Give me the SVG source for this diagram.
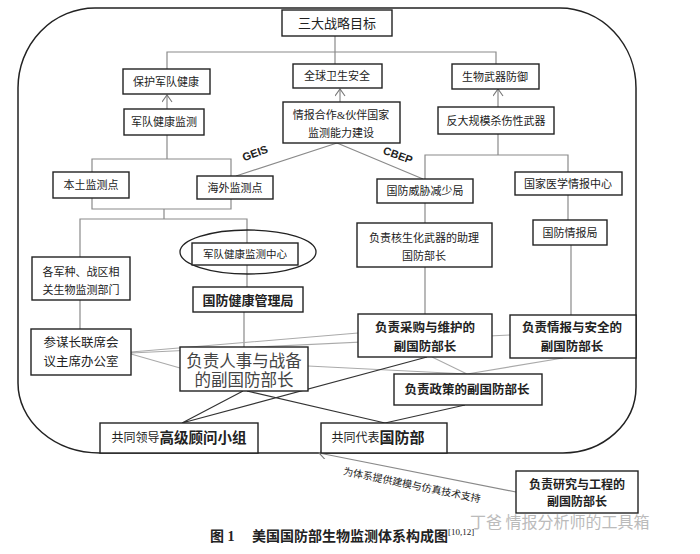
<svg xmlns="http://www.w3.org/2000/svg" width="700" height="554" viewBox="0 0 700 554">
<style>
.b{fill:#fff;stroke:#222;stroke-width:1.4}
.t{font-family:"Liberation Serif","Noto Sans CJK SC",serif;fill:#222;text-anchor:middle;dominant-baseline:central;font-size:11px}
.bd{font-weight:bold;font-size:12.5px}
.c{fill:none;stroke:#8a8a8a;stroke-width:1.2}
.d{fill:none;stroke:#333;stroke-width:1.2}
.l{fill:none;stroke:#aaa;stroke-width:1.1}
.lab{font-family:"Liberation Sans",Arial,sans-serif;font-weight:bold;font-size:11px;fill:#222;text-anchor:middle;dominant-baseline:central}
</style>
<defs>
<marker id="ah" markerUnits="userSpaceOnUse" markerWidth="12" markerHeight="12" refX="8" refY="5" orient="auto">
<path d="M1,0 L8,5 L1,10" fill="none" stroke="#777" stroke-width="1.1"/>
</marker>
</defs>
<rect width="700" height="554" fill="#fff"/>
<path d="M95,8 H560 A76 80 0 0 1 636,88 V387 A73 66 0 0 1 563,453 H100 A82 70 0 0 1 18,383 V88 A77 80 0 0 1 95,8 Z" fill="none" stroke="#222" stroke-width="1.5"/>
<g id="connectors">
<path class="c" d="M335,36 V64 M167,69 V52 H496 V64"/>
<path class="c" d="M167,109 V95" marker-end="url(#ah)"/>
<path class="c" d="M340,102 V89" marker-end="url(#ah)"/>
<path class="c" d="M498,107 V89" marker-end="url(#ah)"/>
<path class="c" d="M167,135 V159 M92,172 V159 H231 V176"/>
<path class="c" d="M337,143 L236,176 M337,143 L423,179"/>
<path class="c" d="M92,198 V209 H231 V199 M164,209 V219 M80,257 V219 H247 V243"/>
<path class="c" d="M247,265 V287 M80,300 V329 M244,312 V347"/>
<path class="c" d="M498,134 V155 M425,179 V155 H568 V172"/>
<path class="c" d="M425,203 V223 M568,195 V220 M425,267 V314 M571,245 V315"/>
<path class="l" d="M131,352 L358,333 M131,353 L510,335 M131,354 L180,368"/>
<path class="l" d="M308,366 L467,374 M432,357 L467,374 M563,358 L467,374"/>
<path class="d" d="M243,391 L182,423 M247,391 L385,423 M427,357 L182,423 M465,405 L385,423"/>
<path class="c" d="M516,492 L319,453" marker-end="url(#ah)"/>
</g>
<g id="n_goal"><rect class="b" x="282" y="10" width="110" height="26"/><text class="t" x="337" y="23" style="font-size:13px">三大战略目标</text></g>
<g id="n_protect"><rect class="b" x="123" y="69" width="87" height="25"/><text class="t" x="166" y="82">保护军队健康</text></g>
<g id="n_global"><rect class="b" x="293" y="64" width="89" height="24"/><text class="t" x="337" y="76">全球卫生安全</text></g>
<g id="n_bio"><rect class="b" x="452" y="64" width="87" height="25"/><text class="t" x="495" y="77">生物武器防御</text></g>
<g id="n_armymon"><rect class="b" x="124" y="109" width="80" height="26"/><text class="t" x="164" y="122">军队健康监测</text></g>
<g id="n_intel"><rect class="b" x="283" y="102" width="117" height="41"/><text class="t" x="341" y="115">情报合作&amp;伙伴国家</text><text class="t" x="341" y="133">监测能力建设</text></g>
<g id="n_cwmd"><rect class="b" x="438" y="107" width="116" height="27"/><text class="t" x="496" y="121">反大规模杀伤性武器</text></g>
<text class="lab" x="255" y="153" transform="rotate(-20 255 153)">GEIS</text>
<text class="lab" x="398" y="155" transform="rotate(20 398 155)">CBEP</text>
<g id="n_home"><rect class="b" x="53" y="172" width="76" height="26"/><text class="t" x="91" y="185">本土监测点</text></g>
<g id="n_over"><rect class="b" x="197" y="176" width="76" height="23"/><text class="t" x="235" y="188">海外监测点</text></g>
<g id="n_dtra"><rect class="b" x="377" y="179" width="96" height="24"/><text class="t" x="425" y="191">国防威胁减少局</text></g>
<g id="n_ncmi"><rect class="b" x="515" y="172" width="107" height="23"/><text class="t" x="568" y="184">国家医学情报中心</text></g>
<g id="n_ncbw"><rect class="b" x="357" y="223" width="135" height="44"/><text class="t" x="424" y="238">负责核生化武器的助理</text><text class="t" x="424" y="256">国防部长</text></g>
<g id="n_dia"><rect class="b" x="533" y="220" width="74" height="25"/><text class="t" x="570" y="233">国防情报局</text></g>
<g id="n_center"><ellipse cx="248" cy="252" rx="68" ry="22" fill="none" stroke="#222" stroke-width="1.3"/><rect class="b" x="192" y="243" width="106" height="22"/><text class="t" x="245" y="254" style="font-size:10.5px">军队健康监测中心</text></g>
<g id="n_services"><rect class="b" x="32" y="257" width="98" height="43"/><text class="t" x="81" y="272">各军种、战区相</text><text class="t" x="81" y="290">关生物监测部门</text></g>
<g id="n_dha"><rect class="b" x="193" y="287" width="110" height="25"/><text class="t bd" x="248" y="300" style="font-size:13px">国防健康管理局</text></g>
<g id="n_jcs"><rect class="b" x="31" y="329" width="100" height="46"/><text class="t" x="81" y="343" style="font-size:12.5px">参谋长联席会</text><text class="t" x="81" y="362" style="font-size:12.5px">议主席办公室</text></g>
<g id="n_pr"><rect class="b" x="180" y="347" width="128" height="44"/><text class="t" x="244" y="361" style="font-size:16.5px;fill:#444">负责人事与战备</text><text class="t" x="244" y="380" style="font-size:16.5px;fill:#444">的副国防部长</text></g>
<g id="n_as"><rect class="b" x="358" y="314" width="134" height="43"/><text class="t bd" x="425" y="328">负责采购与维护的</text><text class="t bd" x="425" y="347">副国防部长</text></g>
<g id="n_is"><rect class="b" x="510" y="315" width="126" height="43"/><text class="t bd" x="572" y="328">负责情报与安全的</text><text class="t bd" x="572" y="347">副国防部长</text></g>
<g id="n_policy"><rect class="b" x="394" y="374" width="148" height="31"/><text class="t bd" x="467" y="390">负责政策的副国防部长</text></g>
<g id="n_sag"><rect class="b" x="100" y="423" width="158" height="30"/><text class="t" x="179" y="438" style="font-size:12px">共同领导<tspan style="font-size:14.5px;font-weight:bold">高级顾问小组</tspan></text></g>
<g id="n_dod"><rect class="b" x="321" y="423" width="126" height="30"/><text class="t" x="378" y="438" style="font-size:12px">共同代表<tspan style="font-size:15px;font-weight:bold">国防部</tspan></text></g>
<g id="n_re"><rect class="b" x="516" y="471" width="122" height="42"/><text class="t bd" x="577" y="485" style="font-size:12px">负责研究与工程的</text><text class="t bd" x="577" y="502" style="font-size:12px">副国防部长</text></g>
<text class="t" x="412" y="485" style="font-size:10px" transform="rotate(11.5 412 485)">为体系提供建模与仿真技术支持</text>
<text x="470" y="528" font-family="'Noto Sans CJK SC',sans-serif" font-size="16" fill="#bbb">丁爸 情报分析师的工具箱</text>
<text x="210" y="541" font-family="'Liberation Serif','Noto Sans CJK SC',serif" font-size="14" font-weight="bold" fill="#222">图 1　 美国国防部生物监测体系构成图<tspan font-size="9" font-weight="normal" dy="-6">[10,12]</tspan></text>
</svg>
